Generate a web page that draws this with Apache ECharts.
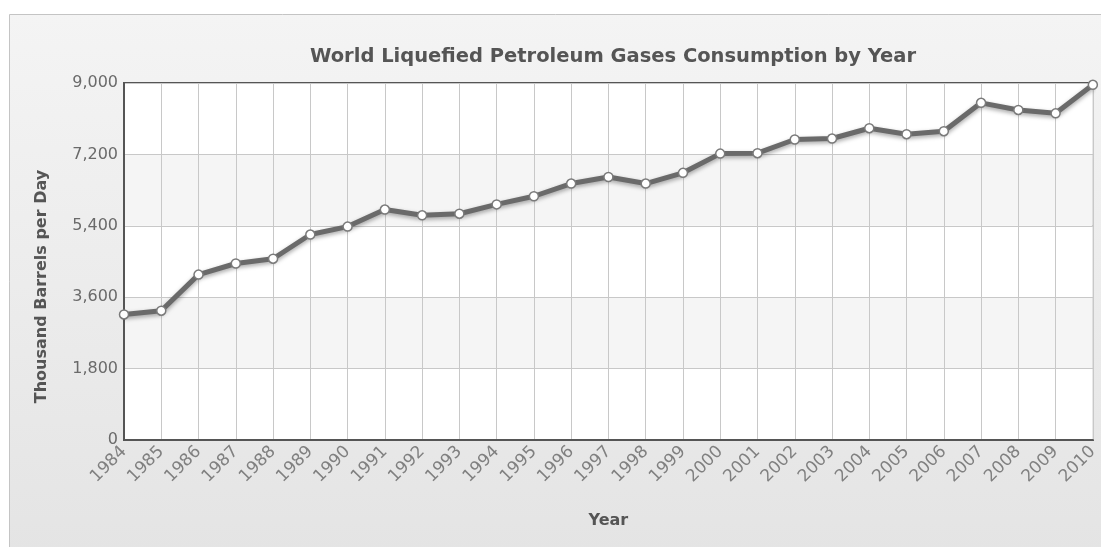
<!DOCTYPE html>
<html>
<head>
<meta charset="utf-8">
<script src="https://cdn.jsdelivr.net/npm/echarts@6/dist/echarts.min.js"></script>
<style>
  html, body { margin: 0; padding: 0; background: #ffffff; }
  #chart { width: 1101px; height: 547px; }
</style>
</head>
<body>
<div id="chart"></div>
<script>
// World LPG consumption, thousand barrels per day
const years = ['1984','1985','1986','1987','1988','1989','1990','1991','1992','1993',
  '1994','1995','1996','1997','1998','1999','2000','2001','2002','2003',
  '2004','2005','2006','2007','2008','2009','2010'];
const consumption = [3165, 3260, 4170, 4450, 4570, 5180, 5380, 5810, 5665, 5705,
  5940, 6145, 6465, 6630, 6465, 6735, 7220, 7230, 7575, 7600,
  7860, 7710, 7785, 8500, 8320, 8235, 8955];
const yTicks = [0, 1800, 3600, 5400, 7200, 9000];

const chart = echarts.init(document.getElementById('chart'));
const fontFamily = '"DejaVu Sans", Verdana, sans-serif';

chart.setOption({
  animation: false,
  textStyle: { fontFamily: fontFamily },
  graphic: [{
    type: 'rect',
    z: -10,
    shape: { x: 9.5, y: 14.5, width: 1100, height: 540 },
    style: {
      fill: new echarts.graphic.LinearGradient(0, 0, 0, 1, [
        { offset: 0, color: '#f4f4f4' },
        { offset: 1, color: '#e4e4e4' }
      ]),
      stroke: '#c4c4c4',
      lineWidth: 1
    }
  }],
  title: {
    text: 'World Liquefied Petroleum Gases Consumption by Year',
    left: 608,
    textAlign: 'center',
    top: 42,
    textStyle: { fontFamily: fontFamily, fontSize: 19.5, fontWeight: 'bold', color: '#555555' }
  },
  grid: {
    left: 124, top: 83, right: 8, bottom: 107,
    show: true,
    backgroundColor: '#ffffff',
    borderColor: '#555555',
    borderWidth: 2
  },
  xAxis: {
    type: 'category',
    data: years,
    boundaryGap: false,
    name: 'Year',
    nameLocation: 'middle',
    nameGap: 73,
    nameTextStyle: { fontFamily: fontFamily, fontSize: 16, fontWeight: 'bold', color: '#555555' },
    axisLine: { show: true, lineStyle: { color: '#555555', width: 2 } },
    axisTick: { show: false },
    axisLabel: { rotate: 45, fontSize: 17, color: '#808080', margin: 9, interval: 0 },
    splitLine: { show: true, lineStyle: { color: '#c8c8c8', width: 1 } }
  },
  yAxis: {
    type: 'value',
    min: yTicks[0],
    max: yTicks[yTicks.length - 1],
    interval: yTicks[1] - yTicks[0],
    name: 'Thousand Barrels per Day',
    nameLocation: 'middle',
    nameGap: 74,
    nameTextStyle: {
      fontFamily: fontFamily, fontSize: 16, fontWeight: 'bold', color: '#555555',
      padding: [0, 50, 0, 0]
    },
    axisLine: { show: true, lineStyle: { color: '#555555', width: 2 } },
    axisTick: { show: false },
    axisLabel: {
      fontSize: 16, color: '#6a6a6a', margin: 6,
      formatter: v => v.toLocaleString('en-US')
    },
    splitLine: { show: true, lineStyle: { color: '#c8c8c8', width: 1 } },
    splitArea: { show: true, areaStyle: { color: ['#ffffff', '#f5f5f5'] } }
  },
  series: [{
    type: 'line',
    data: consumption,
    symbol: 'circle',
    symbolSize: 9,
    showAllSymbol: true,
    lineStyle: {
      color: '#6a6a6a', width: 5,
      shadowColor: 'rgba(0,0,0,0.35)', shadowBlur: 4, shadowOffsetY: 2
    },
    itemStyle: { color: '#ffffff', borderColor: '#7a7a7a', borderWidth: 1.5 }
  }]
});
</script>
</body>
</html>
